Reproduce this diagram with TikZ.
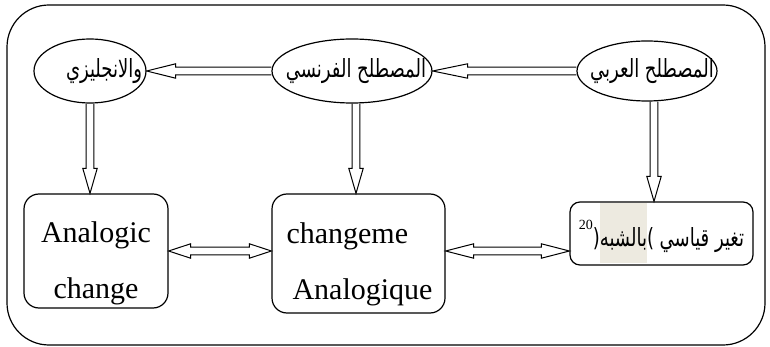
\documentclass[tikz,border=0pt]{standalone}
\usepackage{fontspec}
\setmainfont{Liberation Serif}
\newfontfamily\arabicfont[Script=Arabic,FakeStretch=0.72]{DejaVu Sans}
\TeXXeTstate=1
\usepackage{tikz}
\usetikzlibrary{calc,shapes.geometric,positioning}
\definecolor{hlbeige}{HTML}{EDEAE0}
\tikzset{
  term/.style={draw,ellipse,line width=0.6pt,inner sep=0pt},
  termtext/.style={inner sep=0pt,font=\arabicfont\fontsize{12.5}{14}\selectfont},
  box/.style={draw,rounded corners=7.5pt,line width=0.6pt,inner sep=0pt},
  latin/.style={font=\fontsize{15}{28}\selectfont},
  % outlined block arrow, #1 = head length
  blockarrow/.style={line width=0.5pt,line join=miter,to path={
    let \p1=(\tikztostart), \p2=(\tikztotarget), \n1={atan2(\y2-\y1,\x2-\x1)} in
    ($(\p1)+(\n1+90:1.9pt)$) -- ($(\p2)+(\n1+180:#1)+(\n1+90:1.9pt)$)
    -- ($(\p2)+(\n1+180:#1)+(\n1+90:3.6pt)$) -- (\p2)
    -- ($(\p2)+(\n1+180:#1)+(\n1-90:3.6pt)$) -- ($(\p2)+(\n1+180:#1)+(\n1-90:1.9pt)$)
    -- ($(\p1)+(\n1-90:1.9pt)$)}},
  blockarrow/.default=12.5pt,
  blockboth/.style={line width=0.5pt,line join=miter,to path={
    let \p1=(\tikztostart), \p2=(\tikztotarget), \n1={atan2(\y2-\y1,\x2-\x1)} in
    (\p1) -- ($(\p1)+(\n1:#1)+(\n1+90:3.6pt)$) -- ($(\p1)+(\n1:#1)+(\n1+90:1.9pt)$)
    -- ($(\p2)+(\n1+180:#1)+(\n1+90:1.9pt)$) -- ($(\p2)+(\n1+180:#1)+(\n1+90:3.6pt)$)
    -- (\p2) -- ($(\p2)+(\n1+180:#1)+(\n1-90:3.6pt)$) -- ($(\p2)+(\n1+180:#1)+(\n1-90:1.9pt)$)
    -- ($(\p1)+(\n1:#1)+(\n1-90:1.9pt)$) -- ($(\p1)+(\n1:#1)+(\n1-90:3.6pt)$) -- cycle}},
  blockboth/.default=12pt
}

\begin{document}
\begin{tikzpicture}[x=0.5pt,y=-0.5pt]
  \useasboundingbox (0,0) rectangle (770,347);
  \draw[line width=0.6pt,rounded corners=21pt] (7,5) rectangle (765,345);
  % terms
  \node[term,minimum width=56pt,minimum height=32pt,label={[termtext,xshift=7pt]center:\beginR والانجليزي\endR}] (english) at (90,71) {};
  \node[term,minimum width=80pt,minimum height=32pt,label={[termtext,xshift=2pt]center:\beginR المصطلح الفرنسي\endR}] (french) at (352,71) {};
  \node[term,minimum width=70pt,minimum height=30pt,label={[termtext,xshift=2.5pt]center:\beginR المصطلح العربي\endR}] (arabic) at (647,71) {};
  % boxes
  \node[box,latin,minimum width=72pt,minimum height=57pt,align=center] (analogic) at (96,251) {\rule{0pt}{23pt}Analogic\\change};
  \node[box,latin,minimum width=86.5pt,minimum height=59.5pt,align=left] (changeme) at (358.5,253.5) {\rule{0pt}{21pt}\hspace*{1pt}changeme\\\hspace*{4pt}Analogique};
  \node[box,rounded corners=5pt,minimum width=91.5pt,minimum height=31.5pt,inner xsep=1pt,font=\arabicfont\fontsize{12.5}{14}\selectfont] (taghayyur) at (661.5,233.5)
    {\raisebox{8.5pt}{\normalfont\fontsize{7}{8}\selectfont 20}(\mbox{\fboxsep=0pt\colorbox{hlbeige}{\rule[-8.5pt]{0pt}{30pt}\beginR بالشبه\endR}}) \beginR تغير قياسي\endR};
  % arrows
  \draw[blockarrow=17.5pt] (arabic.west) to (french.east);
  \draw[blockarrow=14.5pt] (french.west) to (english.east);
  \draw[blockarrow] (english.south) to (english.south |- analogic.north);
  \draw[blockarrow] ([xshift=2pt]french.south) to ([xshift=2pt]french.south |- changeme.north);
  \draw[blockarrow] ([xshift=3.5pt]arabic.south) to ([xshift=3.5pt]arabic.south |- taghayyur.north);
  \draw[blockboth=11pt] (analogic.east) to (analogic.east -| changeme.west);
  \draw[blockboth=14pt] (changeme.east |- analogic.east) to (analogic.east -| taghayyur.west);
\end{tikzpicture}
\end{document}
